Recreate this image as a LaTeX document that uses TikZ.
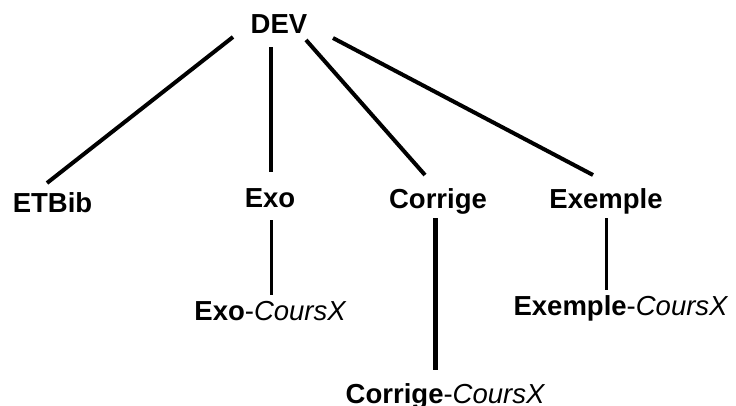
\documentclass[tikz,border=0pt]{standalone}
\usepackage{fontspec}
\setmainfont{Liberation Sans}
\begin{document}
\begin{tikzpicture}[x=1pt,y=-1pt,
  lbl/.style={anchor=base,inner sep=0pt,font=\fontsize{27.5}{33}\selectfont\bfseries},
  mix/.style={anchor=base,inner sep=0pt,font=\fontsize{27.5}{33}\selectfont},
  edge/.style={line width=4pt},
  thinedge/.style={line width=3pt}]
\useasboundingbox (0,0) rectangle (736,405);
\node[lbl] (dev) at (279,33) {DEV};
\node[lbl] (etbib) at (52.5,212) {ETBib};
\node[lbl] (exo) at (270,207) {Exo};
\node[lbl] (corrige) at (438,208) {Corrige};
\node[lbl] (exemple) at (606,208) {Exemple};
\node[mix] (exocx) at (270.5,320) {\textbf{Exo}-\textit{CoursX}};
\node[mix] (corcx) at (445.5,403) {\textbf{Corrige}-\textit{CoursX}};
\node[mix] (exemcx) at (621,315) {\textbf{Exemple}-\textit{CoursX}};
\draw[edge] ([shift={(-46,4)}]dev.base) -- ([shift={(-5.5,-29)}]etbib.base);
\draw[edge] ([shift={(-8,14)}]dev.base) -- ([shift={(1,-35)}]exo.base);
\draw[edge] ([shift={(27,7)}]dev.base) -- ([shift={(-13,-33)}]corrige.base);
\draw[edge] ([shift={(54,5)}]dev.base) -- ([shift={(-13,-33)}]exemple.base);
\draw[thinedge] ([shift={(1,13)}]exo.base) -- ([shift={(0.5,-25)}]exocx.base);
\draw[line width=4.5pt] ([shift={(-2.5,10)}]corrige.base) -- ([shift={(-10,-33)}]corcx.base);
\draw[thinedge] ([shift={(0,10)}]exemple.base) -- ([shift={(-15,-25)}]exemcx.base);
\end{tikzpicture}
\end{document}
